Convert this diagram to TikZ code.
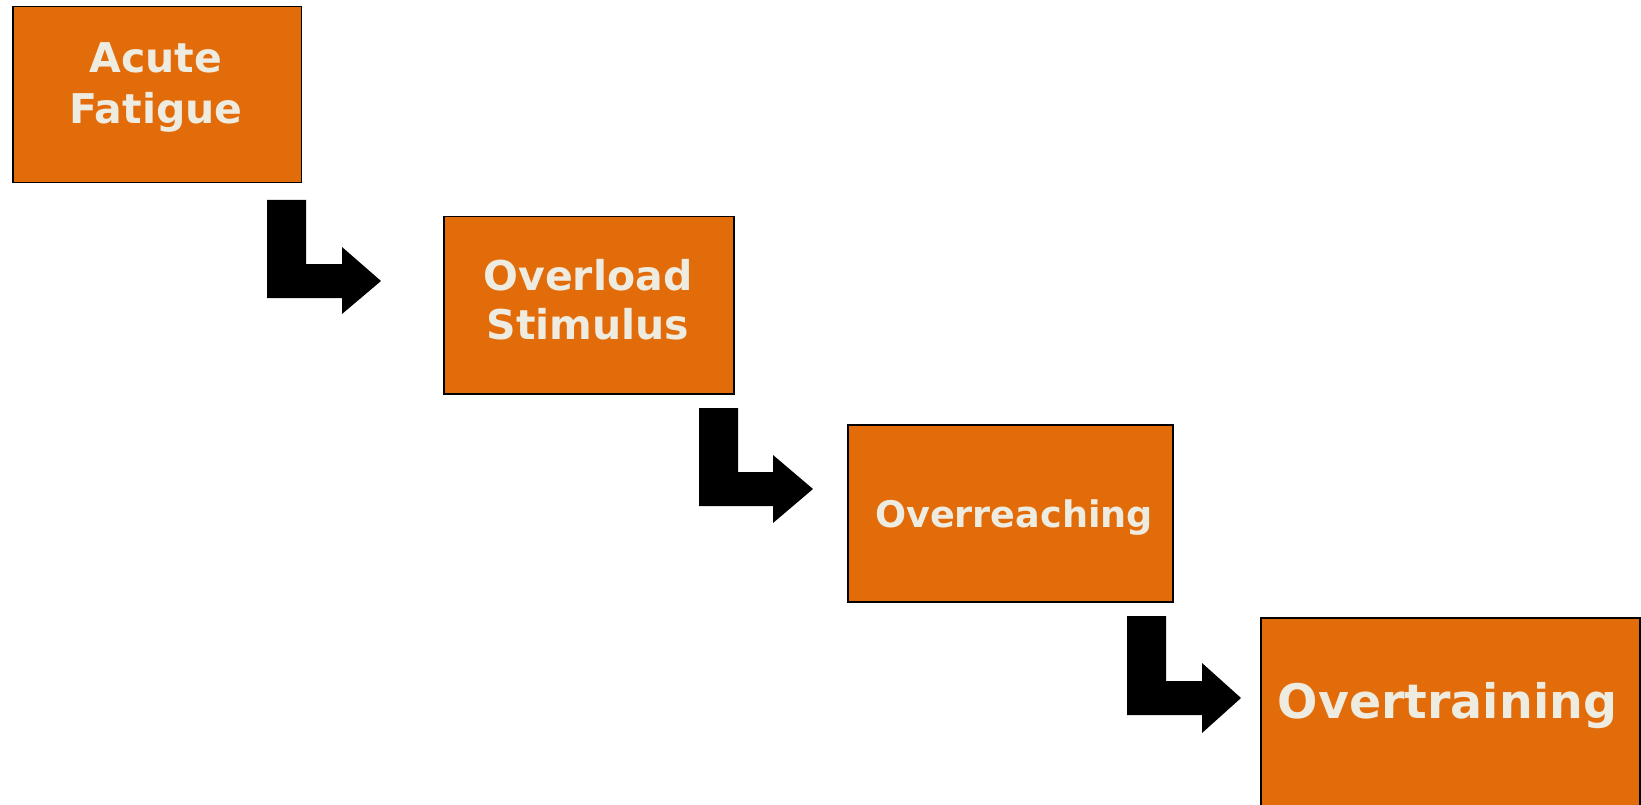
\documentclass[tikz,border=0pt]{standalone}
\usepackage{fontspec}
\setmainfont{DejaVu Sans}
\definecolor{stageorange}{HTML}{E36C0A}
\definecolor{stagetext}{HTML}{EEEBE1}

\begin{document}
\begin{tikzpicture}[x=1pt, y=-1pt,
  stage/.style={draw=black, line width=1.5pt, fill=stageorange,
                anchor=north west, inner sep=0pt},
  lbl/.style={text=stagetext, anchor=base, inner sep=0pt},
  bentarrow/.style={fill=black}]
\useasboundingbox (0,0) rectangle (1641,805);

% stage boxes
\node[stage, minimum width=288.5, minimum height=176] (fatigue) at (12,6) {};
\node[stage, minimum width=290, minimum height=177] (overload) at (443,216) {};
\node[stage, minimum width=325, minimum height=177] (overreach) at (847,424) {};
\node[stage, minimum width=379, minimum height=203] (overtrain) at (1260,617) {};

% box labels
\node[lbl, font=\bfseries\fontsize{41}{49}\selectfont] (fatigue-a) at (156,73) {Acute};
\node[lbl, font=\bfseries\fontsize{41}{49}\selectfont] (fatigue-b) at (156,124) {Fatigue};
\node[lbl, font=\bfseries\fontsize{41}{49}\selectfont] (overload-a) at (588,290) {Overload};
\node[lbl, font=\bfseries\fontsize{41}{49}\selectfont] (overload-b) at (588,339) {Stimulus};
\node[lbl, font=\bfseries\fontsize{36.6}{44}\selectfont] (overreach-a) at (1014,527) {Overreaching};
\node[lbl, font=\bfseries\fontsize{47.5}{57}\selectfont] (overtrain-a) at (1447.5,718) {Overtraining};

% bent block arrows between the stages
\fill[bentarrow] (267,200) -- (306,200) -- (306,264) -- (342,264) -- (342,247)
  -- (381,281) -- (342,314) -- (342,298) -- (267,298) -- cycle;
\fill[bentarrow] (699,408) -- (738,408) -- (738,472) -- (773,472) -- (773,455)
  -- (813,489) -- (773,523) -- (773,506) -- (699,506) -- cycle;
\fill[bentarrow] (1127,616) -- (1166,616) -- (1166,681) -- (1202,681) -- (1202,663)
  -- (1241,698) -- (1202,733) -- (1202,715) -- (1127,715) -- cycle;
\end{tikzpicture}
\end{document}
